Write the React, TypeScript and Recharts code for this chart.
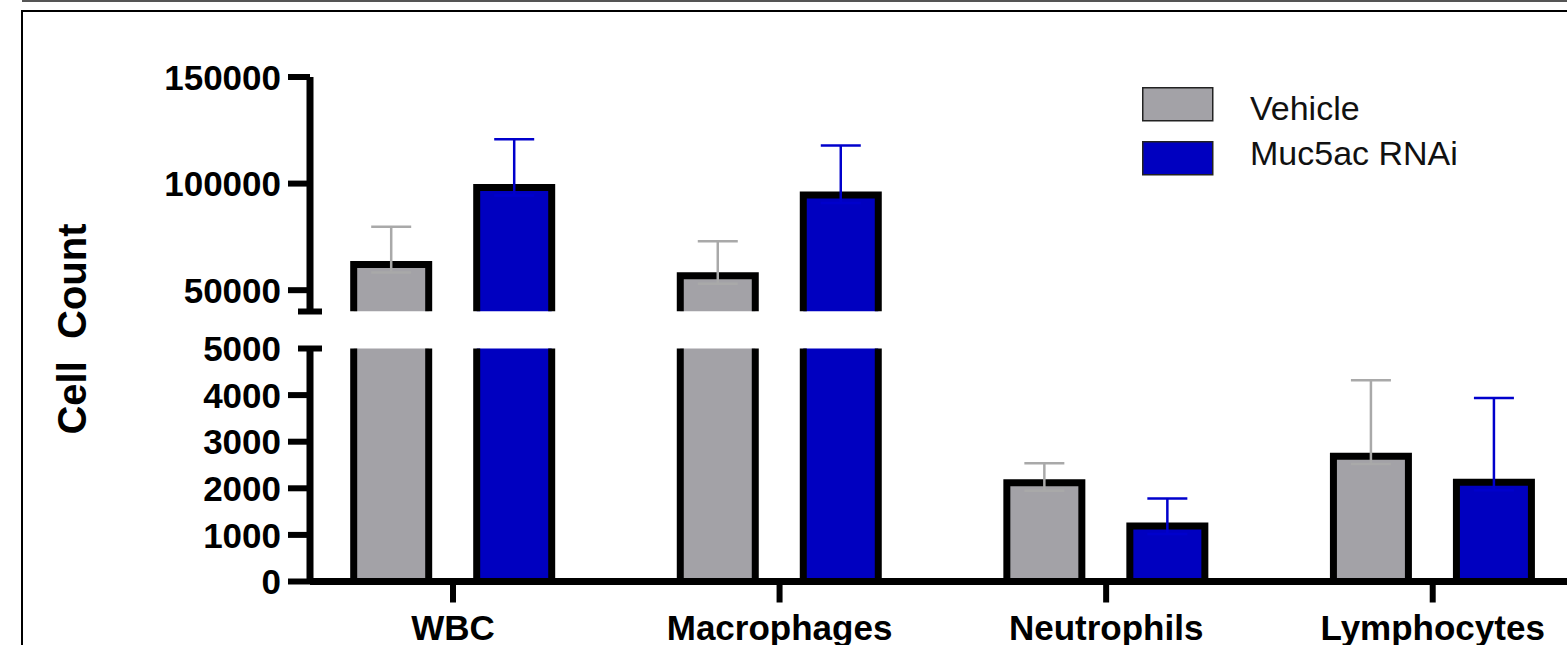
import { Bar, BarChart, ErrorBar, Legend, XAxis, YAxis } from "recharts"

const categories = ["WBC", "Macrophages", "Neutrophils", "Lymphocytes"]
const seriesNames = ["Vehicle", "Muc5ac RNAi"]
const vehicleMean = [62100, 56800, 2120, 2690]
const vehicleSd = [17700, 16200, 420, 1630]
const rnaiMean = [98200, 94700, 1190, 2130]
const rnaiSd = [22600, 23200, 590, 1810]

const upperDomain = [40000, 150000]
const upperTicks = [40000, 50000, 100000, 150000]
const lowerDomain = [0, 5000]
const lowerTicks = [0, 1000, 2000, 3000, 4000, 5000]

const FONT = '"Liberation Sans", Arial, sans-serif'
const CHART_W = 1620
const AXIS_X = 310
const MARGIN_RIGHT = 24

// one row per category; values outside a panel are left out, the overflow gets clipped
function panelData(domain: number[], dip: number) {
  return categories.map((name, i) => {
    const row: any = { name }
    const put = (key: string, mean: number, sd: number) => {
      const fits = mean >= domain[0]
      row[key] = fits ? mean : null
      row[key + "Err"] = fits && mean + sd <= domain[1] ? [dip, sd] : null
    }
    put("vehicle", vehicleMean[i], vehicleSd[i])
    put("rnai", rnaiMean[i], rnaiSd[i])
    return row
  })
}

const upperData = panelData(upperDomain, 3750)
const lowerData = panelData(lowerDomain, 170)

function OutlinedBar(props: any) {
  const { x, y, width, height, fill } = props
  if (height == null || height <= 0) return null
  return (
    <g>
      <rect x={x} y={y} width={width} height={height} fill={fill} />
      <path
        d={`M${x},${y + height}V${y}H${x + width}V${y + height}`}
        fill="none"
        stroke="#000"
        strokeWidth={7}
      />
    </g>
  )
}

function makeTick(breakValue: number, labelBreak: boolean) {
  return (props: any) => {
    const { y, payload } = props
    const isBreak = payload.value === breakValue
    return (
      <g>
        <line
          x1={isBreak ? AXIS_X - 12 : AXIS_X - 22}
          x2={isBreak ? AXIS_X + 12 : AXIS_X}
          y1={y}
          y2={y}
          stroke="#000"
          strokeWidth={6}
        />
        {(!isBreak || labelBreak) && (
          <text
            x={AXIS_X - 29}
            y={y}
            dy="0.36em"
            textAnchor="end"
            fontSize={35}
            fontWeight={700}
            fontFamily={FONT}
            fill="#000"
          >
            {payload.value}
          </text>
        )}
      </g>
    )
  }
}

function LegendBox(props: any) {
  const items = [...(props.payload ?? [])].sort(
    (a: any, b: any) => seriesNames.indexOf(a.value) - seriesNames.indexOf(b.value)
  )
  return (
    <svg width={420} height={100} style={{ overflow: "visible" }}>
      {items.map((item: any, i: number) => (
        <g key={item.value}>
          <rect x={0.75} y={i * 54 + 0.75} width={70} height={33} fill={item.color} stroke="#222" strokeWidth={1.5} />
          <text x={108} y={33 + i * 45} fontSize={34} fontFamily={FONT} fill="#111">
            {item.value}
          </text>
        </g>
      ))}
    </svg>
  )
}

export default function App() {
  const bars = [
    <Bar key="v" dataKey="vehicle" name={seriesNames[0]} fill="#a3a2a7" shape={OutlinedBar} isAnimationActive={false}>
      <ErrorBar dataKey="vehicleErr" width={20} strokeWidth={2.5} stroke="#a9a9a9" isAnimationActive={false} />
    </Bar>,
    <Bar key="r" dataKey="rnai" name={seriesNames[1]} fill="#0000c0" shape={OutlinedBar} isAnimationActive={false}>
      <ErrorBar dataKey="rnaiErr" width={20} strokeWidth={2.5} stroke="#0000cc" isAnimationActive={false} />
    </Bar>,
  ]
  const xPadding = { left: -20.3, right: 0 }

  return (
    <div
      style={{
        position: "absolute",
        left: 0,
        top: 0,
        width: 1567,
        height: 645,
        overflow: "hidden",
        background: "#fff",
      }}
    >
      <div style={{ position: "absolute", left: 22, top: 0, right: 0, borderTop: "2px solid #555" }} />
      <div
        style={{
          position: "absolute",
          left: 21,
          top: 10,
          width: 2000,
          height: 1000,
          borderTop: "2px solid #000",
          borderLeft: "2px solid #000",
        }}
      />

      <div style={{ position: "absolute", left: 0, top: 0 }}>
        <BarChart
          width={CHART_W}
          height={645}
          data={lowerData}
          barSize={75}
          barGap={48}
          margin={{ top: 348.5, right: MARGIN_RIGHT, bottom: 23.5, left: 0 }}
        >
          <XAxis
            dataKey="name"
            height={40}
            padding={xPadding}
            interval={0}
            axisLine={{ stroke: "#000", strokeWidth: 7 }}
            tickLine={{ stroke: "#000", strokeWidth: 6 }}
            tickSize={21}
            tickMargin={13}
            tick={{ fill: "#000", fontSize: 35, fontWeight: 700, fontFamily: FONT }}
          />
          <YAxis
            type="number"
            width={AXIS_X}
            domain={lowerDomain}
            ticks={lowerTicks}
            interval={0}
            allowDataOverflow
            axisLine={{ stroke: "#000", strokeWidth: 7 }}
            tickLine={false}
            tick={makeTick(5000, true)}
          />
          {bars}
        </BarChart>
      </div>

      <div style={{ position: "absolute", left: 0, top: 0 }}>
        <BarChart
          width={CHART_W}
          height={330}
          data={upperData}
          barSize={75}
          barGap={48}
          margin={{ top: 77, right: MARGIN_RIGHT, bottom: 18.5, left: 0 }}
        >
          <XAxis dataKey="name" hide padding={xPadding} />
          <YAxis
            type="number"
            width={AXIS_X}
            domain={upperDomain}
            ticks={upperTicks}
            interval={0}
            allowDataOverflow
            axisLine={{ stroke: "#000", strokeWidth: 7 }}
            tickLine={false}
            tick={makeTick(40000, false)}
          />
          <Legend
            layout="vertical"
            align="center"
            verticalAlign="middle"
            content={<LegendBox />}
            wrapperStyle={{ left: 1142, top: 87, width: 420, height: 100 }}
          />
          {bars}
        </BarChart>
      </div>

      <svg width={200} height={645} style={{ position: "absolute", left: 0, top: 0, pointerEvents: "none" }}>
        <text
          x={72}
          y={329}
          transform="rotate(-90 72 329)"
          textAnchor="middle"
          dominantBaseline="central"
          fontSize={40}
          fontWeight={700}
          fontFamily={FONT}
          fill="#000"
          xmlSpace="preserve"
        >
          {"Cell  Count"}
        </text>
      </svg>
    </div>
  )
}
